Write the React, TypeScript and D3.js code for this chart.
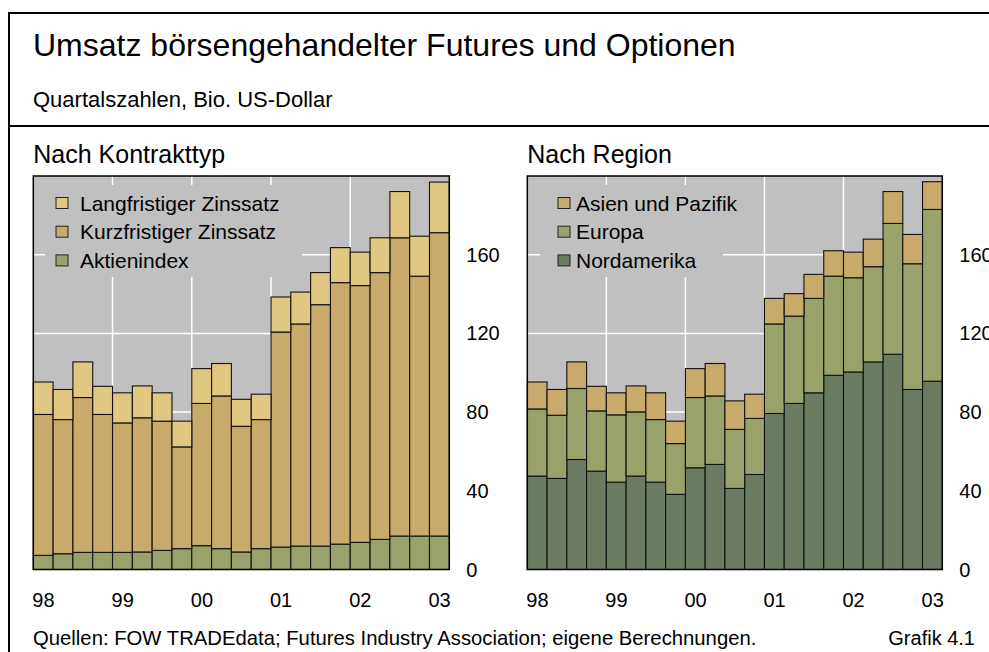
import React from "react";
import * as d3 from "d3";

const quarters = [
  "1998Q1","1998Q2","1998Q3","1998Q4",
  "1999Q1","1999Q2","1999Q3","1999Q4",
  "2000Q1","2000Q2","2000Q3","2000Q4",
  "2001Q1","2001Q2","2001Q3","2001Q4",
  "2002Q1","2002Q2","2002Q3","2002Q4",
  "2003Q1",
];
const yearLabels = ["98", "99", "00", "01", "02", "03"];
const yTicks = [0, 40, 80, 120, 160];

// Nach Kontrakttyp
const aktienindex = [7.2, 8.0, 8.7, 8.7, 8.7, 8.9, 9.7, 10.6, 12.1, 10.6, 8.9, 10.6, 11.4, 11.9, 11.9, 12.9, 13.8, 15.3, 17.0, 17.0, 17.0];
const kurzfristig = [71.6, 68.2, 78.7, 70.1, 65.8, 68.2, 65.7, 51.7, 72.3, 77.6, 63.9, 65.6, 109.3, 112.9, 122.7, 132.9, 130.5, 135.6, 151.6, 132.1, 154.2];
const langfristig = [16.5, 15.3, 18.1, 14.3, 15.3, 16.2, 14.4, 13.1, 17.7, 16.5, 13.7, 12.9, 17.8, 16.2, 16.3, 17.8, 17.0, 17.7, 23.5, 20.3, 25.7];

// Nach Region
const nordamerika = [47.5, 46.3, 55.9, 50.0, 44.4, 47.5, 44.4, 38.2, 51.7, 53.4, 41.2, 48.3, 79.3, 84.4, 89.8, 98.7, 100.4, 105.5, 109.4, 91.5, 95.7];
const europa = [34.1, 32.1, 36.1, 30.6, 34.2, 32.6, 31.8, 25.8, 35.7, 34.8, 30.0, 28.5, 45.5, 44.4, 48.0, 50.4, 47.9, 48.4, 66.5, 63.9, 87.3];
const asien = [13.7, 13.1, 13.5, 12.5, 11.2, 13.2, 13.6, 11.4, 14.7, 16.5, 14.5, 12.3, 13.0, 11.4, 12.2, 12.9, 13.0, 14.0, 16.2, 14.9, 14.1];

const FONT = "'Liberation Sans', Arial, Helvetica, sans-serif";
const BG = "#c0c0c0";

type Series = { name: string; values: number[]; color: string };

const leftSeries: Series[] = [
  { name: "Aktienindex", values: aktienindex, color: "#9aa26b" },
  { name: "Kurzfristiger Zinssatz", values: kurzfristig, color: "#c8aa6b" },
  { name: "Langfristiger Zinssatz", values: langfristig, color: "#e0c882" },
];
const rightSeries: Series[] = [
  { name: "Nordamerika", values: nordamerika, color: "#6b7b62" },
  { name: "Europa", values: europa, color: "#9aa26b" },
  { name: "Asien und Pazifik", values: asien, color: "#c8aa6b" },
];

const PLOT_TOP = 176;
const PLOT_BOTTOM = 569.5;

function Panel(props: {
  x0: number; x1: number; title: string; series: Series[];
  legendBg: [number, number, number, number]; boxX: number; textX: number;
}) {
  const { x0, x1, title, series, legendBg, boxX, textX } = props;
  const x = d3.scaleBand<string>().domain(quarters).range([x0, x1]).padding(0);
  const y = d3.scaleLinear().domain([0, 200]).range([PLOT_BOTTOM, PLOT_TOP]);
  const table = quarters.map((q, i) => {
    const o: any = { q };
    series.forEach((s) => (o[s.name] = s.values[i]));
    return o;
  });
  const stack = d3.stack<any>().keys(series.map((s) => s.name));
  const layers = stack(table);
  const yearIdx = [0, 4, 8, 12, 16, 20];
  const legendRows = [...series].reverse();
  return (
    <g>
      <text x={x0} y={163} fontSize={25} fontFamily={FONT} fill="#000">{title}</text>
      <rect x={x0} y={PLOT_TOP} width={x1 - x0} height={PLOT_BOTTOM - PLOT_TOP} fill={BG} />
      {yTicks.filter((t) => t > 0).map((t) => (
        <line key={"h" + t} x1={x0} x2={x1} y1={y(t)} y2={y(t)} stroke="#fff" strokeWidth={1.5} />
      ))}
      {[4, 8, 12, 16].map((i) => (
        <line key={"v" + i} x1={x(quarters[i])!} x2={x(quarters[i])!} y1={PLOT_TOP} y2={PLOT_BOTTOM} stroke="#fff" strokeWidth={1.5} />
      ))}
      <rect x={legendBg[0]} y={legendBg[1]} width={legendBg[2] - legendBg[0]} height={legendBg[3] - legendBg[1]} fill={BG} />
      {layers.map((layer, li) => (
        <g key={li}>
          {layer.map((d, i) => (
            <rect key={i} x={x(quarters[i])!} y={y(d[1])} width={x.bandwidth()} height={y(d[0]) - y(d[1])}
              fill={series[li].color} stroke="#111" strokeWidth={1.1} />
          ))}
        </g>
      ))}
      <rect x={x0} y={PLOT_TOP} width={x1 - x0} height={PLOT_BOTTOM - PLOT_TOP} fill="none" stroke="#000" strokeWidth={1.5} />
      {legendRows.map((s, i) => {
        const cy = 203 + i * 28.7;
        return (
          <g key={s.name}>
            <rect x={boxX} y={cy - 5.5} width={12} height={11} fill={s.color} stroke="#222" strokeWidth={1} />
            <text x={textX} y={cy + 7.5} fontSize={21} fontFamily={FONT} fill="#000">{s.name}</text>
          </g>
        );
      })}
      {yTicks.map((t) => (
        <text key={"yt" + t} x={x1 + 17} y={y(t) + 7} fontSize={20} fontFamily={FONT} fill="#000">{t}</text>
      ))}
      {yearIdx.map((qi, k) => (
        <text key={"xt" + k} x={x(quarters[qi])! - 1} y={607} fontSize={20} fontFamily={FONT} fill="#000">{yearLabels[k]}</text>
      ))}
    </g>
  );
}

export default function App() {
  return (
    <svg width={989} height={652} style={{ position: "absolute", left: 0, top: 0, background: "#fff" }}>
      <rect x={0} y={0} width={989} height={652} fill="#fff" />
      <line x1={8} x2={989} y1={13} y2={13} stroke="#000" strokeWidth={2} />
      <line x1={9} x2={9} y1={12} y2={652} stroke="#000" strokeWidth={2} />
      <line x1={8} x2={989} y1={126} y2={126} stroke="#000" strokeWidth={2} />
      <text x={33} y={56} fontSize={32} fontFamily={FONT} fill="#000">Umsatz börsengehandelter Futures und Optionen</text>
      <text x={33} y={107} fontSize={22} fontFamily={FONT} fill="#000">Quartalszahlen, Bio. US-Dollar</text>
      <Panel x0={33.3} x1={449.3} title="Nach Kontrakttyp" series={leftSeries}
        legendBg={[45, 185, 302, 277]} boxX={56} textX={80} />
      <Panel x0={527.3} x1={942.3} title="Nach Region" series={rightSeries}
        legendBg={[540, 185, 723, 277]} boxX={558} textX={576} />
      <text x={33} y={645} fontSize={20.3} fontFamily={FONT} fill="#000">Quellen: FOW TRADEdata; Futures Industry Association; eigene Berechnungen.</text>
      <text x={975} y={645} fontSize={20} fontFamily={FONT} fill="#000" textAnchor="end">Grafik 4.1</text>
    </svg>
  );
}
